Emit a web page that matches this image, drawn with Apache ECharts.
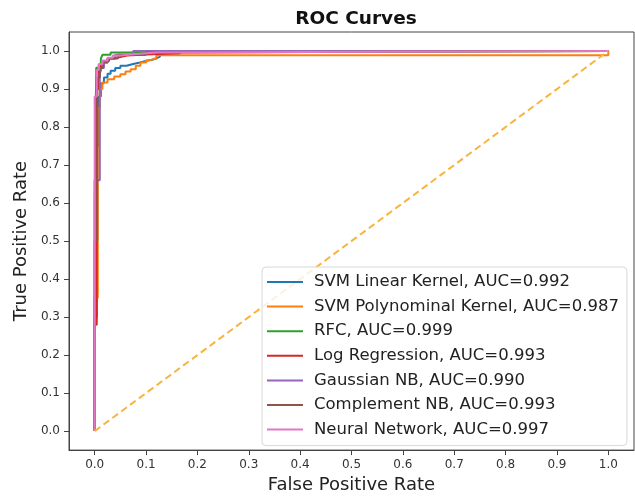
<!DOCTYPE html>
<html>
<head>
<meta charset="utf-8">
<script src="https://cdn.jsdelivr.net/npm/echarts@6/dist/echarts.min.js"></script>
<style>
  html, body { margin: 0; padding: 0; background: #fff; }
  #chart { width: 635px; height: 499px; }
</style>
</head>
<body>
<div id="chart"></div>
<script>
// [fpr, tpr] corner points
const svmLinear = [[0,0],[0,0.3],[0.004,0.3],[0.004,0.75],[0.008,0.75],[0.008,0.88],[0.012,0.88],[0.012,0.915],
  [0.018,0.915],[0.018,0.93],[0.025,0.93],[0.025,0.94],[0.031,0.94],[0.031,0.948],[0.04,0.948],[0.04,0.955],
  [0.05,0.955],[0.05,0.961],[0.062,0.961],[0.062,0.966],[0.075,0.966],[0.075,0.97],[0.088,0.97],[0.088,0.974],
  [0.1,0.974],[0.1,0.977],[0.112,0.977],[0.112,0.981],[0.121,0.981],[0.121,0.985],[0.127,0.985],[0.127,0.994],
  [0.166,0.994],[0.166,1],[1,1]];
const svmPoly = [[0,0],[0,0.35],[0.006,0.35],[0.006,0.85],[0.01,0.85],[0.01,0.9],[0.015,0.9],[0.015,0.917],
  [0.025,0.917],[0.025,0.926],[0.038,0.926],[0.038,0.933],[0.05,0.933],[0.05,0.939],[0.06,0.939],[0.06,0.946],
  [0.07,0.946],[0.07,0.952],[0.08,0.952],[0.08,0.961],[0.089,0.961],[0.089,0.97],[0.1,0.97],[0.1,0.976],
  [0.108,0.976],[0.108,0.981],[0.12,0.981],[0.12,0.989],[1,0.989],[1,1]];
const rfc = [[0,0],[0,0.6],[0.003,0.6],[0.003,0.956],[0.008,0.956],[0.008,0.965],[0.012,0.965],[0.012,0.98],
  [0.015,0.98],[0.015,0.99],[0.031,0.99],[0.031,0.996],[0.046,0.996],[0.046,1],[1,1]];
const logReg = [[0,0],[0,0.28],[0.004,0.28],[0.004,0.9],[0.008,0.9],[0.008,0.948],[0.012,0.948],[0.012,0.962],
  [0.018,0.962],[0.018,0.974],[0.028,0.974],[0.028,0.98],[0.037,0.98],[0.037,0.984],[0.05,0.984],[0.05,0.988],
  [0.063,0.988],[0.063,0.991],[0.1,0.991],[0.1,0.994],[0.166,0.994],[0.166,1],[1,1]];
const gaussNB = [[0,0],[0,0.66],[0.01,0.66],[0.01,0.94],[0.013,0.94],[0.013,0.955],[0.018,0.955],[0.018,0.97],
  [0.025,0.97],[0.025,0.98],[0.04,0.98],[0.04,0.99],[0.075,0.99],[0.075,1],[1,1]];
const complNB = [[0,0],[0,0.5],[0.005,0.5],[0.005,0.93],[0.01,0.93],[0.01,0.955],[0.016,0.955],[0.016,0.97],
  [0.025,0.97],[0.025,0.98],[0.045,0.98],[0.045,0.99],[0.1,0.99],[0.1,0.996],[0.14,0.996],[0.14,1],[1,1]];
const neuralNet = [[0,0],[0,0.88],[0.004,0.88],[0.004,0.95],[0.008,0.95],[0.008,0.965],[0.015,0.965],[0.015,0.975],
  [0.025,0.975],[0.025,0.982],[0.035,0.982],[0.035,0.988],[0.05,0.988],[0.05,0.991],[0.07,0.991],[0.07,0.996],
  [0.12,0.996],[0.12,1],[1,1]];
const chance = [[0,0],[1,1]];

const names = ['SVM Linear Kernel, AUC=0.992', 'SVM Polynominal Kernel, AUC=0.987', 'RFC, AUC=0.999',
  'Log Regression, AUC=0.993', 'Gaussian NB, AUC=0.990', 'Complement NB, AUC=0.993', 'Neural Network, AUC=0.997'];
const curves = [svmLinear, svmPoly, rfc, logReg, gaussNB, complNB, neuralNet];
const colors = ['#1f77b4', '#ff7f0e', '#2ca02c', '#d62728', '#9467bd', '#8c564b', '#e377c2'];
const ticks = [0, 0.1, 0.2, 0.3, 0.4, 0.5, 0.6, 0.7, 0.8, 0.9, 1.0];

const font = 'DejaVu Sans';
const axisCommon = {
  type: 'value', min: -0.05, max: 1.05,
  nameLocation: 'middle',
  nameTextStyle: { fontFamily: font, fontSize: 18, color: '#222' },
  axisLine: { show: true, onZero: false, lineStyle: { color: '#444', width: 1 } },
  axisTick: { show: true, length: 5, customValues: ticks, lineStyle: { color: '#444' } },
  axisLabel: { customValues: ticks, fontFamily: font, fontSize: 12, color: '#333', margin: 9,
    formatter: v => v.toFixed(1) },
  splitLine: { show: false }
};

let series = curves.map((d, i) => ({
  name: names[i], type: 'line', data: d, symbol: 'none',
  lineStyle: { color: colors[i], width: 2 }, itemStyle: { color: colors[i] },
  animation: false
}));
series.push({
  name: 'chance', type: 'line', data: chance, symbol: 'none',
  lineStyle: { color: '#f9b43e', width: 2, type: [7, 4] }, animation: false
});

const chart = echarts.init(document.getElementById('chart'));
chart.setOption({
  backgroundColor: '#fff',
  color: colors,
  title: {
    text: 'ROC Curves', left: 351, textAlign: 'center', top: 5,
    textStyle: { fontFamily: font, fontSize: 18.5, fontWeight: 'bold', color: '#111' }
  },
  grid: { left: 69, right: 1, top: 32, bottom: 46, show: true, borderColor: '#444', borderWidth: 1 },
  xAxis: Object.assign({}, axisCommon, { name: 'False Positive Rate', nameGap: 25 }),
  yAxis: Object.assign({}, axisCommon, { name: 'True Positive Rate', nameGap: 38 }),
  legend: {
    data: names, orient: 'vertical', left: 262, top: 267,
    icon: 'rect', itemWidth: 36, itemHeight: 2, itemGap: 6.6,
    padding: [6, 8, 7, 5],
    backgroundColor: 'rgba(255,255,255,0.8)', borderColor: '#d8d8d8', borderWidth: 1, borderRadius: 4,
    textStyle: { fontFamily: font, fontSize: 16.5, lineHeight: 18, color: '#222', padding: [0, 0, 0, 6] }
  },
  series: series
});
</script>
</body>
</html>
